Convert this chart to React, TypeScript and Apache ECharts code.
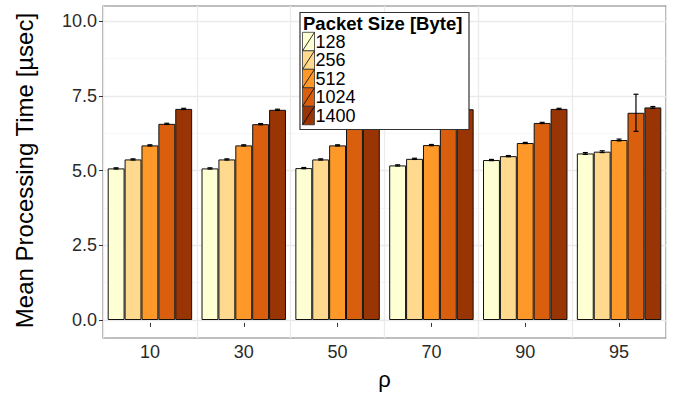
import React, { useEffect, useRef } from "react";
import * as echarts from "echarts";

const categories = ["10", "30", "50", "70", "90", "95"];
const packetSizes = ["128", "256", "512", "1024", "1400"];
const colors = ["#FFFFD4", "#FED98E", "#FE9929", "#D95F0E", "#993404"];

const v128 = [5.07, 5.07, 5.08, 5.17, 5.35, 5.57];
const v256 = [5.37, 5.37, 5.37, 5.39, 5.48, 5.63];
const v512 = [5.84, 5.84, 5.84, 5.85, 5.92, 6.02];
const v1024 = [6.56, 6.55, 6.57, 6.58, 6.59, 6.93];
const v1400 = [7.06, 7.03, 7.06, 7.05, 7.06, 7.11];

const e128 = [0.02, 0.02, 0.02, 0.02, 0.02, 0.03];
const e256 = [0.02, 0.02, 0.02, 0.02, 0.02, 0.03];
const e512 = [0.02, 0.02, 0.02, 0.02, 0.02, 0.03];
const e1024 = [0.02, 0.02, 0.02, 0.02, 0.02, 0.62];
const e1400 = [0.02, 0.02, 0.02, 0.02, 0.02, 0.03];

const yTicks = ["0.0", "2.5", "5.0", "7.5", "10.0"];

const values = [v128, v256, v512, v1024, v1400];
const errors = [e128, e256, e512, e1024, e1400];

export default function App() {
  const ref = useRef<HTMLDivElement>(null);

  useEffect(() => {
    if (!ref.current) return;
    const chart = echarts.init(ref.current, null, { renderer: "svg" });

    const barSeries = packetSizes.map((name, i) => ({
      name,
      type: "bar",
      xAxisIndex: 1,
      yAxisIndex: 1,
      data: values[i],
      barGap: "0%",
      barCategoryGap: "10%",
      itemStyle: { color: colors[i], borderColor: "#111", borderWidth: 1 },
      z: 2,
    }));

    const errData: number[][] = [];
    values.forEach((arr, s) => {
      arr.forEach((v, c) => {
        errData.push([c, v, errors[s][c], s]);
      });
    });

    const errSeries = {
      type: "custom",
      xAxisIndex: 1,
      yAxisIndex: 1,
      z: 5,
      data: errData,
      renderItem: (params: any, api: any) => {
        const c = api.value(0);
        const m = api.value(1);
        const e = api.value(2);
        const s = api.value(3);
        const band = api.size([1, 0])[0];
        const base = api.coord([c, m]);
        const x = base[0] + band * (-0.45 + 0.18 * (s + 0.5));
        const yLo = api.coord([c, m - e])[1];
        const yHi = api.coord([c, m + e])[1];
        const style = { stroke: "#000", lineWidth: 1.2 };
        return {
          type: "group",
          children: [
            { type: "line", shape: { x1: x, y1: yLo, x2: x, y2: yHi }, style },
            { type: "line", shape: { x1: x - 2.5, y1: yLo, x2: x + 2.5, y2: yLo }, style },
            { type: "line", shape: { x1: x - 2.5, y1: yHi, x2: x + 2.5, y2: yHi }, style },
          ],
        };
      },
    };

    const legendChildren: any[] = [
      {
        type: "rect",
        z: 100,
        shape: { x: 300, y: 12.5, width: 169, height: 117 },
        style: { fill: "#ffffff", stroke: "#333", lineWidth: 1.2 },
      },
      {
        type: "text",
        z: 101,
        x: 303,
        y: 14.5,
        style: {
          text: "Packet Size [Byte]",
          font: "bold 18.5px 'Liberation Sans', Arial, sans-serif",
          lineHeight: 17,
          fill: "#000",
        },
      },
    ];
    packetSizes.forEach((name, i) => {
      const ky = 32.3 + 18.5 * i;
      legendChildren.push({
        type: "rect",
        z: 101,
        shape: { x: 302.5, y: ky, width: 12, height: 18.5 },
        style: { fill: colors[i], stroke: "#333", lineWidth: 0.8 },
      });
      legendChildren.push({
        type: "line",
        z: 102,
        shape: { x1: 302.5, y1: ky + 18.5, x2: 314.5, y2: ky },
        style: { stroke: "#000", lineWidth: 0.8 },
      });
      legendChildren.push({
        type: "text",
        z: 102,
        x: 315.5,
        y: ky + 9.6,
        style: {
          text: name,
          font: "18px 'Liberation Sans', Arial, sans-serif",
          lineHeight: 15,
          fill: "#000",
          verticalAlign: "middle",
        },
      });
    });

    chart.setOption({
      animation: false,
      backgroundColor: "#fff",
      textStyle: { fontFamily: "'Liberation Sans', Arial, sans-serif" },
      grid: [
        {
          left: 103,
          right: 10,
          top: 6,
          bottom: 60,
          show: true,
          borderColor: "#7F7F7F",
          borderWidth: 1.2,
          backgroundColor: "transparent",
        },
        { left: 103, right: 10, top: 21, bottom: 78 },
      ],
      xAxis: [
        {
          type: "category",
          gridIndex: 0,
          data: categories,
          axisLine: { show: false },
          axisTick: { show: true, alignWithLabel: true, length: 4, lineStyle: { color: "#333" } },
          axisLabel: { color: "#2a2a2a", fontSize: 18, margin: 5 },
          splitLine: { show: true, interval: 0, lineStyle: { color: "#EBEBEB", width: 1.3 } },
          name: "ρ",
          nameLocation: "middle",
          nameGap: 30,
          nameTextStyle: { fontSize: 22, color: "#000" },
        },
        {
          type: "category",
          gridIndex: 1,
          data: categories,
          show: false,
        },
      ],
      yAxis: [
        {
          type: "value",
          gridIndex: 0,
          min: -0.5,
          max: 10.5,
          show: false,
          splitLine: { show: false },
        },
        {
          type: "value",
          gridIndex: 1,
          min: 0,
          max: 10,
          interval: 2.5,
          axisLine: { show: false },
          axisTick: { show: true, length: 4, lineStyle: { color: "#333" } },
          axisLabel: {
            color: "#2a2a2a",
            fontSize: 18,
            margin: 6,
            formatter: (v: number) => yTicks[Math.round(v / 2.5)] ?? String(v),
          },
          splitLine: { show: true, lineStyle: { color: "#EBEBEB", width: 1.3 } },
          minorTick: { show: false, splitNumber: 2 },
          minorSplitLine: { show: true, lineStyle: { color: "#F3F3F3", width: 0.7 } },
          name: "Mean Processing Time [µsec]",
          nameLocation: "middle",
          nameRotate: 90,
          nameGap: 67,
          nameTextStyle: { fontSize: 24, color: "#000" },
        },
      ],
      series: [...barSeries, errSeries],
      graphic: [{ type: "group", z: 100, zlevel: 0, children: legendChildren }],
    });

    return () => chart.dispose();
  }, []);

  return (
    <div
      ref={ref}
      style={{ position: "fixed", left: 0, top: 0, width: 676, height: 398 }}
    />
  );
}
